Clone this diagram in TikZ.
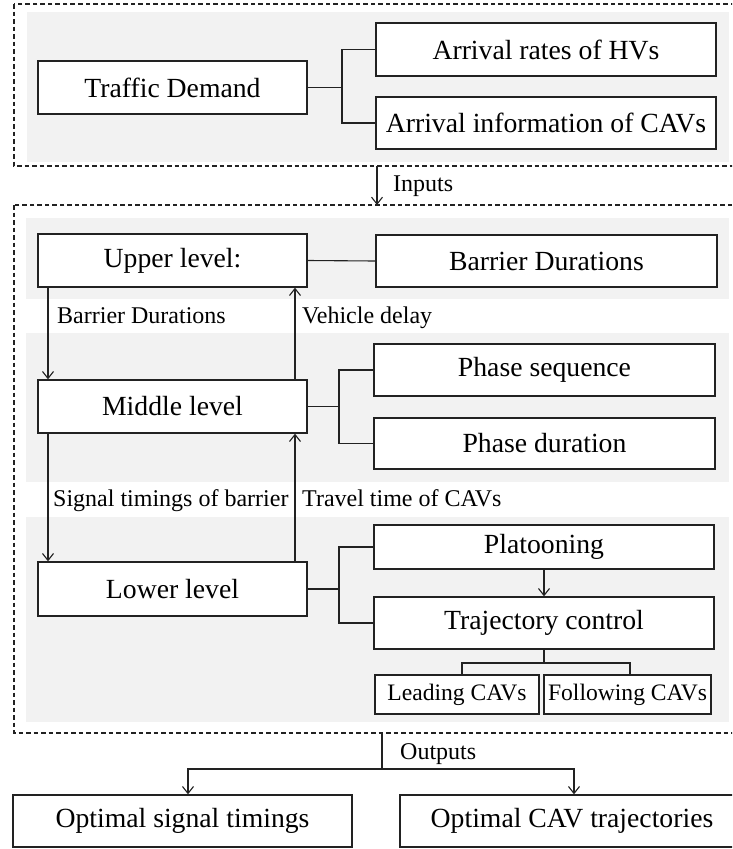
\documentclass[tikz,border=0pt]{standalone}
\usepackage{fontspec}
\setmainfont{Liberation Serif}
\usetikzlibrary{arrows.meta}
\definecolor{panelgray}{HTML}{F2F2F2}
\definecolor{inkc}{HTML}{222222}
\begin{document}
\begin{tikzpicture}[x=1pt,y=-1pt,
  box/.style={draw=inkc, line width=1.3pt, fill=white, inner sep=0pt, font=\fontsize{27.7}{30}\selectfont},
  smallbox/.style={box, font=\fontsize{23.6}{26}\selectfont},
  lbl/.style={inner sep=0pt, font=\fontsize{24}{27}\selectfont, anchor=base west},
  conn/.style={draw=inkc, line width=1.1pt},
  arr/.style={conn, -{Straight Barb[length=7pt,width=11pt,line width=1.1pt]}},
  dashbox/.style={draw=inkc, line width=1.1pt, dash pattern=on 4.5pt off 3pt},
  panel/.style={fill=panelgray, draw=none}]
\useasboundingbox (0,0) rectangle (732,849);
\clip (0,0) rectangle (732,849);
% panels
\fill[panel] (27,12) rectangle (729,162);
\fill[panel] (26,218) rectangle (729,299);
\fill[panel] (26,333) rectangle (729,482);
\fill[panel] (26,517) rectangle (729,722);
% dashed frames
\draw[dashbox] (14,4) rectangle (760,166);
\draw[dashbox] (14,205) rectangle (760,733);
% traffic demand
\node[box, minimum width=269pt, minimum height=53pt] (td) at (172.5,87.5) {Traffic Demand};
\node[box, minimum width=340pt, minimum height=53pt] (ar) at (546,49.5) {Arrival rates of HVs};
\node[box, minimum width=340pt, minimum height=52pt] (ai) at (546,123) {Arrival information of CAVs};
\coordinate (j1) at (342,87.5);
\draw[conn] (td.east) -- (j1);
\draw[conn] (ar.west) -| (j1);
\draw[conn] (ai.west) -| (j1);
% inputs
\coordinate (in1) at (377,166);
\coordinate (in2) at (377,205);
\draw[arr] (in1) -- (in2);
\node[lbl] (linp) at (393,191) {Inputs};
% upper level
\node[box, minimum width=269pt, minimum height=53pt] (up) at (172.5,260.5) {Upper level:};
\node[box, minimum width=341pt, minimum height=52pt] (bd) at (546.5,261) {Barrier Durations};
\draw[conn] (up.east) -- (bd.west);
% middle level
\node[box, minimum width=269pt, minimum height=53pt] (mid) at (172.5,406.5) {Middle level};
\node[box, minimum width=341pt, minimum height=52pt] (ps) at (544.5,370) {Phase sequence};
\node[box, minimum width=341pt, minimum height=51pt] (pd) at (544.5,443.5) {Phase duration};
\coordinate (j2) at (339,406.5);
\draw[conn] (mid.east) -- (j2);
\draw[conn] (ps.west) -| (j2);
\draw[conn] (pd.west) -| (j2);
% lower level
\node[box, minimum width=269pt, minimum height=54pt] (low) at (172.5,589) {Lower level};
\node[box, minimum width=340pt, minimum height=44pt] (pl) at (544,547) {Platooning};
\node[box, minimum width=340pt, minimum height=52pt] (tc) at (544,623) {Trajectory control};
\coordinate (j3) at (339,589);
\draw[conn] (low.east) -- (j3);
\draw[conn] (pl.west) -| (j3);
\draw[conn] (tc.west) -| (j3);
\draw[arr] (pl.south) -- (tc.north);
\node[smallbox, minimum width=164pt, minimum height=39pt] (lc) at (457,694.5) {Leading CAVs};
\node[smallbox, minimum width=167pt, minimum height=39pt] (fc) at (627.5,694.5) {Following CAVs};
\coordinate (j4) at (544,663);
\draw[conn, line width=1.6pt] (tc.south) -- (j4);
\draw[conn, line width=1.6pt] ([xshift=5pt]lc.north) |- (j4) -| ([xshift=2.5pt]fc.north);
% level arrows
\draw[arr] ([xshift=-124.5pt]up.south) -- ([xshift=-124.5pt]mid.north);
\draw[arr] ([xshift=122.5pt]mid.north) -- ([xshift=122.5pt]up.south);
\draw[arr] ([xshift=-124.5pt]mid.south) -- ([xshift=-124.5pt]low.north);
\draw[arr] ([xshift=122.5pt]low.north) -- ([xshift=122.5pt]mid.south);
\node[lbl] (l1) at (57,323) {Barrier Durations};
\node[lbl] (l2) at (302,323) {Vehicle delay};
\node[lbl] (l3) at (53,506) {Signal timings of barrier};
\node[lbl] (l4) at (302,506) {Travel time of CAVs};
% outputs
\node[box, minimum width=339pt, minimum height=52pt] (os) at (182.5,821) {Optimal signal timings};
\node[box, minimum width=344pt, minimum height=52pt] (oc) at (572,821) {Optimal CAV trajectories};
\coordinate (out0) at (382,733);
\coordinate (out1) at (382,769);
\coordinate (ol) at (188,769);
\coordinate (or) at (574,769);
\draw[conn] (out0) -- (out1);
\draw[arr] (out1) -- (ol) -- (ol |- os.north);
\draw[arr] (out1) -- (or) -- (or |- oc.north);
\node[lbl] (lout) at (400,759) {Outputs};
\end{tikzpicture}
\end{document}
